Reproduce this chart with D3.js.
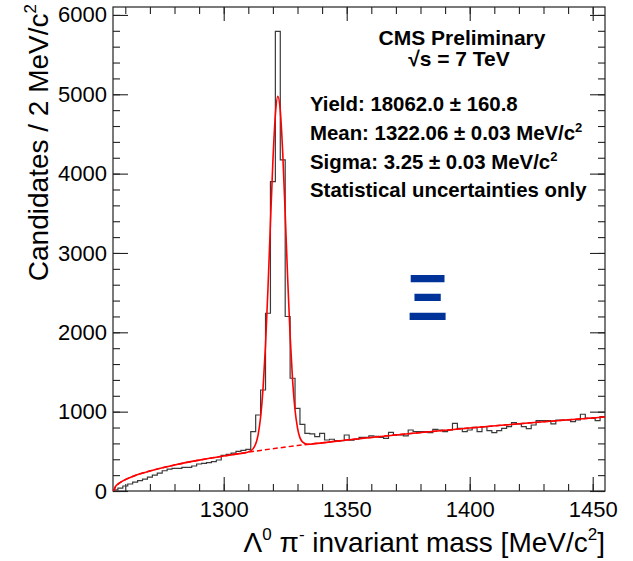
<!DOCTYPE html>
<html><head><meta charset="utf-8">
<script src="https://cdn.jsdelivr.net/npm/d3@7"></script>
<style>
body{margin:0;background:#fff}
svg{display:block}
text{font-family:"Liberation Sans",Arial,Helvetica,sans-serif}
</style>
</head><body>
<svg id="chart" width="633" height="561"></svg>
<script>
// ---- data ----
const massMin = 1255, massMax = 1455, binWidth = 2;   // histogram binning, MeV/c^2
const yMax = 6100;
const counts = [
  13,35,63,88,113,130,150,175,200,225,
  255,275,286,286,298,298,315,340,349,357,
  370,391,450,462,478,500,512,525,748,958,
  1273,2240,3900,5792,4174,2199,1421,1042,840,727,
  719,685,727,643,652,635,635,706,640,652,
  677,677,694,690,677,664,740,706,706,694,
  769,748,748,748,735,777,769,748,769,853,
  790,748,769,803,748,811,761,735,761,790,
  811,862,845,811,786,832,887,887,887,845,
  895,895,895,874,895,967,916,916,887,937
];
// background component of the fit (dashed)
const bgMass  = [1255.3,1256,1257,1259,1262,1266,1270,1280,1290,1300,1310,1320,1330,1340,1350,1375,1400,1425,1455];
const bgValue = [0,55,86,127,171,216,253,328,389,441,489,533,573,607,642,722,794,860,933];
// total fit (solid)
const fitMass  = [1255.3,1256,1257,1259,1262,1266,1270,1280,1290,1300,1305,1310,1312,1314,1315,1316,1317,1318,1319,1320,1321,1322,1323,1324,1325,1326,1327,1328,1329,1330,1332,1334,1340,1350,1375,1400,1425,1455];
const fitValue = [0,55,86,127,171,216,253,328,389,441,465,493,534,711,929,1294,1838,2556,3373,4158,4739,4973,4795,4258,3496,2682,1956,1397,1021,794,619,590,607,642,722,794,860,933];
const xTickValues = [1300,1350,1400,1450];
const yTickValues = [0,1000,2000,3000,4000,5000,6000];
const statLines = [
  {t:"Yield: 18062.0 \u00b1 160.8", sup:""},
  {t:"Mean: 1322.06 \u00b1 0.03 MeV/c", sup:"2"},
  {t:"Sigma: 3.25 \u00b1 0.03 MeV/c", sup:"2"},
  {t:"Statistical uncertainties only", sup:""}
];

// ---- layout ----
const svg = d3.select("#chart");
svg.append("rect").attr("width",633).attr("height",561).attr("fill","#fff");
const x = d3.scaleLinear().domain([massMin, massMax]).range([113, 605]);
const y = d3.scaleLinear().domain([0, yMax]).range([491, 7]);
const X0 = x.range()[0], X1 = x.range()[1], Y0 = y.range()[0], Y1 = y.range()[1];

svg.append("clipPath").attr("id","clip").append("rect")
  .attr("x",X0).attr("y",Y1).attr("width",X1-X0).attr("height",Y0-Y1);

const FONT = '"Liberation Sans",Arial,Helvetica,sans-serif';
const tickCol = "#222";
function styleAxis(g, fs){
  g.select(".domain").remove();
  g.attr("font-family", FONT).attr("font-size", fs).attr("color", tickCol);
  g.selectAll(".tick line").attr("stroke-width", 1.1);
  g.selectAll(".tick text").attr("fill", "#000");
}
const xMinor = d3.range(1260, 1451, 10);
const yMinor = d3.range(0, 6001, 200);

// bottom
svg.append("g").attr("transform",`translate(0,${Y0})`)
  .call(d3.axisBottom(x).tickValues(xMinor).tickSize(-7).tickFormat(""))
  .call(g=>styleAxis(g,22));
svg.append("g").attr("transform",`translate(0,${Y0})`)
  .call(d3.axisBottom(x).tickValues(xTickValues).tickSize(-14).tickPadding(10).tickFormat(d3.format("d")))
  .call(g=>styleAxis(g,22));
// top
svg.append("g").attr("transform",`translate(0,${Y1})`)
  .call(d3.axisTop(x).tickValues(xMinor).tickSize(-7).tickFormat(""))
  .call(g=>styleAxis(g,22));
svg.append("g").attr("transform",`translate(0,${Y1})`)
  .call(d3.axisTop(x).tickValues(xTickValues).tickSize(-14).tickFormat(""))
  .call(g=>styleAxis(g,22));
// left
svg.append("g").attr("transform",`translate(${X0},0)`)
  .call(d3.axisLeft(y).tickValues(yMinor).tickSize(-7).tickFormat(""))
  .call(g=>styleAxis(g,22));
svg.append("g").attr("transform",`translate(${X0},0)`)
  .call(d3.axisLeft(y).tickValues(yTickValues).tickSize(-15).tickPadding(6).tickFormat(d3.format("d")))
  .call(g=>styleAxis(g,22));
// right
svg.append("g").attr("transform",`translate(${X1},0)`)
  .call(d3.axisRight(y).tickValues(yMinor).tickSize(-7).tickFormat(""))
  .call(g=>styleAxis(g,22));
svg.append("g").attr("transform",`translate(${X1},0)`)
  .call(d3.axisRight(y).tickValues(yTickValues).tickSize(-15).tickFormat(""))
  .call(g=>styleAxis(g,22));

// frame
svg.append("rect").attr("x",X0).attr("y",Y1).attr("width",X1-X0).attr("height",Y0-Y1)
  .attr("fill","none").attr("stroke","#222").attr("stroke-width",1.2);

// histogram
const histPts = counts.map((c,i)=>[massMin + i*binWidth, c]);
histPts.push([massMin + counts.length*binWidth, counts[counts.length-1]]);
const plot = svg.append("g").attr("clip-path","url(#clip)");
plot.append("path")
  .attr("d", d3.line().x(d=>x(d[0])).y(d=>y(d[1])).curve(d3.curveStepAfter)(histPts))
  .attr("fill","none").attr("stroke","#3a3a3a").attr("stroke-width",1.2);

// background (dashed)
plot.append("path")
  .attr("d", d3.line().x((d,i)=>x(bgMass[i])).y(d=>y(d)).curve(d3.curveMonotoneX)(bgValue))
  .attr("fill","none").attr("stroke","#ff0000").attr("stroke-width",1.5)
  .attr("stroke-dasharray","5,3");
// total fit
plot.append("path")
  .attr("d", d3.line().x((d,i)=>x(fitMass[i])).y(d=>y(d)).curve(d3.curveMonotoneX)(fitValue))
  .attr("fill","none").attr("stroke","#ff0000").attr("stroke-width",1.6);

// ---- texts ----
svg.append("text").attr("x",462).attr("y",44.5).attr("text-anchor","middle")
  .attr("font-weight","bold").attr("font-size",21).text("CMS Preliminary");
svg.append("text").attr("x",459).attr("y",65.5).attr("text-anchor","middle")
  .attr("font-weight","bold").attr("font-size",21).text("\u221as = 7 TeV");

const statY = [111, 140, 168.5, 197];
statLines.forEach((s,i)=>{
  const t = svg.append("text").attr("x",310).attr("y",statY[i])
    .attr("font-weight","bold").attr("font-size",20.4);
  t.append("tspan").text(s.t);
  if (s.sup) t.append("tspan").attr("dy",-8).attr("font-size",13).text(s.sup);
});

// Xi symbol
svg.append("text").attr("x",427.5).attr("y",320).attr("text-anchor","middle")
  .attr("font-weight","bold").attr("font-size",64).attr("fill","#00339a").text("\u039e");

// x title
const xt = svg.append("text").attr("x",605).attr("y",552).attr("text-anchor","end").attr("font-size",28);
xt.append("tspan").text("\u039b");
xt.append("tspan").attr("dy",-12).attr("font-size",17).text("0");
xt.append("tspan").attr("dy",12).text(" \u03c0");
xt.append("tspan").attr("dy",-12).attr("font-size",17).text("-");
xt.append("tspan").attr("dy",12).text(" invariant mass [MeV/c");
xt.append("tspan").attr("dy",-12).attr("font-size",17).text("2");
xt.append("tspan").attr("dy",12).text("]");

// y title
const yt = svg.append("text").attr("transform","translate(48,4) rotate(-90)")
  .attr("text-anchor","end").attr("font-size",28);
yt.append("tspan").text("Candidates / 2 MeV/c");
yt.append("tspan").attr("dy",-12).attr("font-size",17).text("2");
</script>
</body></html>
